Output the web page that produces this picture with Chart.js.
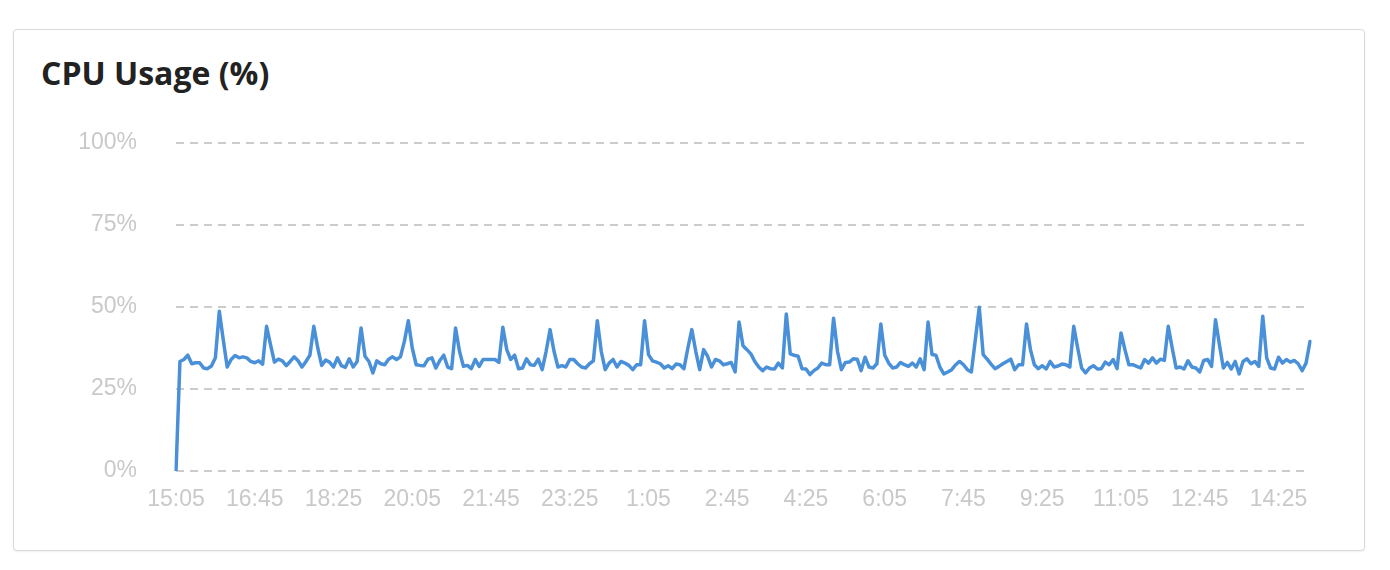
<!DOCTYPE html>
<html>
<head>
<meta charset="utf-8">
<script src="https://cdn.jsdelivr.net/npm/chart.js@4.4.1/dist/chart.umd.min.js"></script>
<style>
  html, body { margin: 0; padding: 0; background: #fff; }
  body { width: 1390px; height: 570px; position: relative; overflow: hidden; }
  .card { position: absolute; left: 13px; top: 29px; width: 1350px; height: 520px;
          border: 1px solid #d9d9d9; border-radius: 4px; box-shadow: 0 1px 2px rgba(0,0,0,0.06); background: #fff; }
  .title { position: absolute; left: 41px; top: 53px; font-family: "Open Sans", sans-serif; font-weight: 700;
           font-size: 32px; color: #222; line-height: 40px; white-space: nowrap; }
  canvas { position: absolute; left: 0; top: 0; }
</style>
</head>
<body>
<div class="card"></div>
<div class="title">CPU Usage (%)</div>
<canvas id="c" width="1390" height="570"></canvas>
<script>
const startTime = { h: 15, m: 5 };
const stepMinutes = 5;
const tickLabels = ['15:05','16:45','18:25','20:05','21:45','23:25','1:05','2:45','4:25','6:05','7:45','9:25','11:05','12:45','14:25'];
const yTickLabels = ['0%','25%','50%','75%','100%'];
const cpuValues = [
  0, 33.4, 34, 35.3, 32.7, 33, 33, 31.4, 31.2, 32,
  34.5, 48.7, 40, 31.7, 34, 35.2, 34.5, 34.8, 34.5, 33.4,
  33, 33.6, 32.6, 44.1, 38.5, 33.2, 34.1, 33.6, 32.1, 33.4,
  34.8, 33.6, 31.7, 33.4, 35.3, 44.1, 37.5, 32.2, 33.8, 33.2,
  31.7, 34.5, 32.1, 31.6, 34.2, 31.7, 33.4, 43.6, 35, 33.4,
  29.9, 33.6, 32.7, 32.4, 34.1, 34.8, 34, 34.8, 39.5, 45.8,
  37.5, 32.4, 32.2, 32.1, 34.1, 34.5, 31.4, 33.7, 35.3, 31.7,
  31.2, 43.6, 36.5, 31.9, 32.2, 31.2, 34, 31.9, 34, 34,
  34, 34, 33.1, 43.8, 37, 34, 35.3, 31.2, 31.4, 34.2,
  32.4, 32.2, 34.1, 30.9, 36.5, 43.1, 36.5, 31.7, 32.1, 31.7,
  34, 34, 32.7, 31.7, 31.4, 32.7, 33.6, 45.8, 36.5, 30.9,
  32.9, 34, 31.7, 33.4, 32.9, 32.2, 30.9, 32.4, 32.4, 45.8,
  35.5, 33.6, 33.2, 32.7, 31.4, 32.1, 31.2, 32.6, 32.4, 31.2,
  37.5, 43.1, 36.5, 30.9, 37, 35, 31.7, 34, 33.6, 32.4,
  32.7, 33.1, 30.2, 45.4, 38.2, 37, 35.7, 33.4, 31.7, 30.6,
  31.7, 31.2, 31.1, 32.9, 31.4, 47.9, 35.7, 35.3, 35, 31.2,
  31.1, 29.4, 30.6, 31.4, 32.9, 32.4, 32.4, 46.6, 36.5, 30.9,
  33.1, 33.2, 34.2, 34.1, 30.6, 34.7, 31.7, 31.4, 32.7, 44.8,
  35.3, 32.9, 31.4, 31.7, 33.1, 32.4, 31.9, 32.9, 31.7, 34.2,
  30.9, 45.4, 35.5, 35.3, 31.7, 29.6, 30.2, 30.9, 32.4, 33.4,
  32.4, 30.9, 30.2, 40, 49.9, 35.5, 34.1, 32.6, 31.2, 31.9,
  32.7, 33.4, 34.1, 30.9, 32.4, 32.4, 44.8, 37, 32.4, 31.2,
  32.1, 31.1, 33.4, 31.7, 32, 32.6, 32.4, 31.7, 44.1, 37.5,
  31.4, 29.9, 31.4, 32.1, 31.1, 31.2, 33.2, 32.4, 34, 31.2,
  42.1, 37, 32.4, 32.4, 31.9, 31.4, 34, 32.9, 34.5, 32.9,
  34.1, 33.7, 44.1, 37.5, 31.4, 31.7, 31.1, 33.6, 31.7, 31.4,
  30.2, 33.7, 34, 31.9, 46.1, 38.5, 31.4, 33.1, 31.1, 33.4,
  29.6, 33.4, 34.2, 32.7, 33.4, 31.9, 47.2, 34.5, 31.4, 31.1,
  34.7, 32.9, 34, 33.2, 33.7, 32.7, 30.6, 32.9, 39.5
];

// category labels: one per sample, every 5 minutes from 15:05
const categories = cpuValues.map((_, i) => {
  const total = startTime.h * 60 + startTime.m + i * stepMinutes;
  const h = Math.floor(total / 60) % 24;
  const m = total % 60;
  return h + ':' + String(m).padStart(2, '0');
});
const labelEvery = 20;

const tickFont = { family: '"Liberation Sans", Arial, sans-serif', size: 23 };
const tickColor = '#c9c9c9';

new Chart(document.getElementById('c'), {
  type: 'line',
  data: {
    labels: categories,
    datasets: [{
      data: cpuValues,
      borderColor: '#4a90d9',
      borderWidth: 3.5,
      pointRadius: 0,
      pointHoverRadius: 0,
      tension: 0,
      fill: false,
      borderJoinStyle: 'round',
      borderCapStyle: 'round'
    }]
  },
  options: {
    responsive: false,
    animation: false,
    events: [],
    layout: { padding: { left: 76, right: 80, top: 143, bottom: 0 } },
    plugins: { legend: { display: false }, tooltip: { enabled: false }, title: { display: false } },
    scales: {
      x: {
        type: 'category',
        offset: false,
        grid: { display: false, drawTicks: false },
        border: { display: false },
        ticks: {
          autoSkip: false,
          maxRotation: 0,
          minRotation: 0,
          padding: 15,
          color: tickColor,
          font: tickFont,
          callback: (v, i) => (i % labelEvery === 0 ? tickLabels[i / labelEvery] : '')
        },
        afterFit: (s) => { s.height = 99; }
      },
      y: {
        min: 0,
        max: 100,
        grid: { color: '#cccccc', lineWidth: 2, drawTicks: false },
        border: { display: false, dash: [8, 6] },
        ticks: {
          stepSize: 25,
          padding: 39,
          color: tickColor,
          font: tickFont,
          callback: (v) => yTickLabels[v / 25]
        },
        afterFit: (s) => { s.width = 100; }
      }
    }
  }
});
</script>
</body>
</html>
